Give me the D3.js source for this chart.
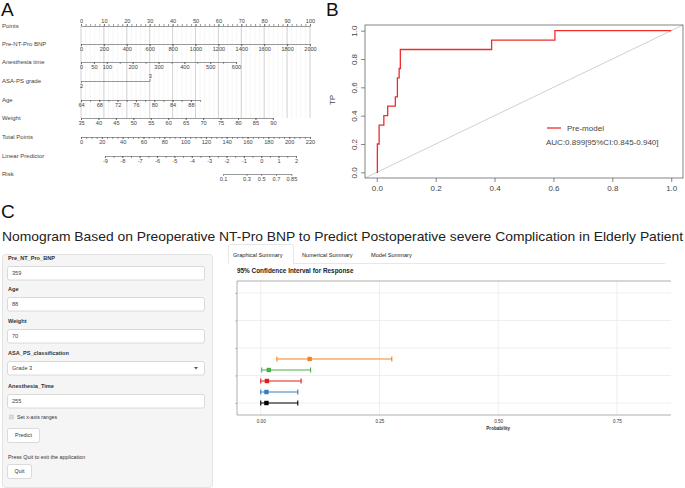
<!DOCTYPE html>
<html>
<head>
<meta charset="utf-8">
<script src="https://cdn.jsdelivr.net/npm/d3@7"></script>
<style>
  body { margin: 0; background: #fff; }
  svg { display: block; font-family: "Liberation Sans", Arial, sans-serif; }
  .nomo .domain, .nomo .tick line { stroke: #555; stroke-width: 0.6; }
  .nomo text { fill: #444; font-size: 5.6px; }
  .roc .domain, .roc .tick line { stroke: #555; stroke-width: 0.7; }
  .roc text { fill: #444; font-size: 8px; }
  .ci .tick line { stroke: #888; stroke-width: 0.5; }
  .ci .domain { display: none; }
  .ci text { fill: #333; font-size: 4.6px; }
</style>
</head>
<body>
<svg id="fig" width="685" height="488"></svg>
<script>
"use strict";

// ---- panel A: nomogram ----
const nomoLabels = ["Points", "Pre-NT-Pro BNP", "Anesthesia time", "ASA-PS grade", "Age",
                    "Weight", "Total Points", "Linear Predictor", "Risk"];
const pointsTicks = [0, 10, 20, 30, 40, 50, 60, 70, 80, 90, 100];
const bnpTicks = [0, 200, 400, 600, 800, 1000, 1200, 1400, 1600, 1800, 2000];
const anesTicks = [0, 50, 100, 150, 200, 250, 300, 350, 400, 450, 500, 550, 600];
const anesLabels = [0, 50, 100, 200, 300, 400, 500, 600];
const asaLevels = [2, 3];
const ageTicks = [64, 66, 68, 70, 72, 74, 76, 78, 80, 82, 84, 86, 88, 90];
const ageLabels = [64, 68, 72, 76, 80, 84, 88];
const weightTicks = [35, 40, 45, 50, 55, 60, 65, 70, 75, 80, 85, 90];
const totalTicks = [0, 20, 40, 60, 80, 100, 120, 140, 160, 180, 200, 220];
const lpTicks = [-9, -8, -7, -6, -5, -4, -3, -2, -1, 0, 1, 2];
const riskTicks = [0.1, 0.3, 0.5, 0.7, 0.85];
// points given at the top of each predictor's range
const bnpMaxPoints = 100, anesMaxPoints = 67.7, asaMaxPoints = 30, ageMaxPoints = 52, weightMaxPoints = 83.8;
// total points that line up with the ends of the linear predictor axis
const lpEnds = [-9, 2], lpEndTotals = [23, 206.5];

// ---- panel B: ROC ----
const rocFpr = [0, 0.002, 0.008, 0.024, 0.037, 0.063, 0.07, 0.076, 0.08, 0.39, 0.605, 1];
const rocTpr = [0, 0.2, 0.333, 0.4, 0.467, 0.533, 0.667, 0.733, 0.867, 0.933, 1, 1];
const rocTicks = [0, 0.2, 0.4, 0.6, 0.8, 1.0];
const rocLegend = ["Pre-model", "AUC:0.899[95%CI:0.845-0.940]"];

// ---- panel C: shiny app ----
const appTitle = "Nomogram Based on Preoperative NT-Pro BNP to Predict Postoperative severe Complication in Elderly Patient";
const fieldLabels = ["Pre_NT_Pro_BNP", "Age", "Weight", "ASA_PS_classification", "Anesthesia_Time"];
const fieldValues = ["359", "88", "70", "Grade 3", "255"];
const tabNames = ["Graphical Summary", "Numerical Summary", "Model Summary"];
const ciFit = [0.012, 0.012, 0.013, 0.017, 0.103];
const ciLower = [0.0, 0.0, 0.0, 0.002, 0.034];
const ciUpper = [0.078, 0.078, 0.085, 0.105, 0.276];
const ciColors = ["#000000", "#377eb8", "#e41a1c", "#4daf4a", "#f58220"];
const ciXTicks = [0, 0.25, 0.5, 0.75];
const ciYTicks = [1, 3.5, 6, 8.5, 11];

const svg = d3.select("#fig");

function panelLabel(x, y, s) {
  svg.append("text").attr("x", x).attr("y", y).attr("font-size", 19).attr("fill", "#111").text(s);
}

/**
 * One nomogram scale: a minor tick pass without labels, then the labelled pass.
 */
function nomoAxis(g, scale, y, above, ticks, labels, fmt) {
  const make = above ? d3.axisTop : d3.axisBottom;
  g.append("g").attr("transform", `translate(0,${y})`)
      .call(make(scale).tickValues(ticks).tickSize(2).tickSizeOuter(0).tickFormat(""));
  const lab = g.append("g").attr("transform", `translate(0,${y})`)
      .call(make(scale).tickValues(labels).tickSize(2).tickSizeOuter(0).tickPadding(1.5)
            .tickFormat(fmt || (d => d)));
  lab.select(".domain").remove();
}

function drawNomogram() {
  const g = svg.append("g").attr("class", "nomo");
  const pts = d3.scaleLinear().domain([0, 100]).range([81, 310]);
  const rowY = [26, 44, 62, 81, 100, 118, 137, 156, 174];

  // grid
  const grid = g.append("g");
  grid.selectAll(".minor").data(d3.range(0, 101, 2)).join("line")
      .attr("x1", d => pts(d)).attr("x2", d => pts(d)).attr("y1", rowY[0]).attr("y2", rowY[5])
      .attr("stroke", "#ededed").attr("stroke-width", 0.5);
  grid.selectAll(".major").data(pointsTicks).join("line")
      .attr("x1", d => pts(d)).attr("x2", d => pts(d)).attr("y1", rowY[0]).attr("y2", rowY[5])
      .attr("stroke", "#cfcfcf").attr("stroke-width", 0.9);

  g.selectAll(".lab").data(nomoLabels).join("text")
      .attr("x", 2).attr("y", (d, i) => rowY[i]).attr("dy", "0.35em").style("font-size", "6px")
      .text(d => d);

  nomoAxis(g, pts, rowY[0], true, d3.range(0, 101, 2), pointsTicks);

  const bnp = d3.scaleLinear().domain([0, 2000]).range([pts(0), pts(bnpMaxPoints)]);
  nomoAxis(g, bnp, rowY[1], false, bnpTicks, bnpTicks);

  const anes = d3.scaleLinear().domain([0, 600]).range([pts(0), pts(anesMaxPoints)]);
  nomoAxis(g, anes, rowY[2], false, anesTicks, anesLabels);

  const asa = d3.scaleLinear().domain(asaLevels).range([pts(0), pts(asaMaxPoints)]);
  g.append("g").attr("transform", `translate(0,${rowY[3]})`)
      .call(d3.axisTop(asa).tickValues([asaLevels[1]]).tickSize(2).tickSizeOuter(0).tickPadding(1.5)
            .tickFormat(d => d));
  g.append("g").attr("transform", `translate(0,${rowY[3]})`)
      .call(d3.axisBottom(asa).tickValues([asaLevels[0]]).tickSize(2).tickSizeOuter(0).tickPadding(1.5)
            .tickFormat(d => d))
      .select(".domain").remove();

  const age = d3.scaleLinear().domain([64, 90]).range([pts(0), pts(ageMaxPoints)]);
  nomoAxis(g, age, rowY[4], false, ageTicks, ageLabels);

  const weight = d3.scaleLinear().domain([35, 90]).range([pts(0), pts(weightMaxPoints)]);
  nomoAxis(g, weight, rowY[5], false, weightTicks, weightTicks);

  const total = d3.scaleLinear().domain([0, 220]).range([81, 310]);
  nomoAxis(g, total, rowY[6], false, d3.range(0, 221, 5), totalTicks);

  const lp = d3.scaleLinear().domain(lpEnds).range(lpEndTotals.map(total));
  nomoAxis(g, lp, rowY[7], false, d3.range(-9, 2.01, 0.5), lpTicks);

  const logit = p => Math.log(p / (1 - p));
  const riskLo = logit(riskTicks[0]), riskHi = logit(riskTicks[riskTicks.length - 1]);
  const risk = d3.scaleLinear().domain([riskLo, riskHi]).range([lp(riskLo), lp(riskHi)]);
  g.append("g").attr("transform", `translate(0,${rowY[8]})`)
      .call(d3.axisBottom(risk).tickValues(riskTicks.map(logit)).tickSize(2).tickSizeOuter(0)
            .tickPadding(1.5).tickFormat((d, i) => riskTicks[i]));
}

function drawRoc() {
  const g = svg.append("g").attr("class", "roc");
  const x = d3.scaleLinear().domain([-0.04, 1.04]).range([365, 683]);
  const y = d3.scaleLinear().domain([-0.04, 1.04]).range([178, 25]);

  g.append("line").attr("x1", x(-0.04)).attr("y1", y(-0.04)).attr("x2", x(1.04)).attr("y2", y(1.04))
      .attr("stroke", "#c4c4c4").attr("stroke-width", 0.8);

  const line = d3.line().x(d => x(d[0])).y(d => y(d[1])).curve(d3.curveStepAfter);
  g.append("path").datum(d3.zip(rocFpr, rocTpr)).attr("d", line)
      .attr("fill", "none").attr("stroke", "#ee2c2c").attr("stroke-width", 1.3);

  g.append("rect").attr("x", 365).attr("y", 25).attr("width", 318).attr("height", 153)
      .attr("fill", "none").attr("stroke", "#666").attr("stroke-width", 0.8);

  g.append("g").attr("transform", "translate(0,178)")
      .call(d3.axisBottom(x).tickValues(rocTicks).tickSize(4).tickPadding(3).tickFormat(d3.format(".1f")))
      .select(".domain").remove();
  const ya = g.append("g").attr("transform", "translate(365,0)")
      .call(d3.axisLeft(y).tickValues(rocTicks).tickSize(4).tickFormat(d3.format(".1f")));
  ya.select(".domain").remove();
  ya.selectAll("text").attr("x", 0).attr("y", -8).attr("dy", 0)
      .attr("transform", "rotate(-90)").attr("text-anchor", "middle");

  g.append("text").attr("transform", "translate(335,100) rotate(-90)").attr("text-anchor", "middle")
      .text("TP");

  g.append("line").attr("x1", 547).attr("x2", 561).attr("y1", 128).attr("y2", 128)
      .attr("stroke", "#ee2c2c").attr("stroke-width", 1.3);
  g.append("text").attr("x", 567).attr("y", 128).attr("dy", "0.35em").text(rocLegend[0]);
  g.append("text").attr("x", 546).attr("y", 142).attr("dy", "0.35em").text(rocLegend[1]);
}

function drawApp() {
  svg.append("text").attr("x", 2).attr("y", 241).attr("font-size", 13.4).attr("fill", "#222")
      .attr("textLength", 681).attr("lengthAdjust", "spacingAndGlyphs").text(appTitle);

  // sidebar well
  const side = svg.append("g");
  side.append("rect").attr("x", 2.5).attr("y", 254.5).attr("width", 210).attr("height", 233).attr("rx", 3)
      .attr("fill", "#f5f5f5").attr("stroke", "#e3e3e3");
  const labelY = [258, 289, 321, 353, 386];
  fieldLabels.forEach((lab, i) => {
    side.append("text").attr("x", 8).attr("y", labelY[i]).attr("dy", "0.35em")
        .attr("font-size", 5.6).attr("font-weight", "bold").attr("fill", "#333").text(lab);
    side.append("rect").attr("x", 7.5).attr("y", labelY[i] + 8.5).attr("width", 197).attr("height", 13.5)
        .attr("rx", 2).attr("fill", "#fff").attr("stroke", "#ccc").attr("stroke-width", 0.7);
    side.append("text").attr("x", 12).attr("y", labelY[i] + 15.3).attr("dy", "0.35em")
        .attr("font-size", 5.6).attr("fill", "#444").text(fieldValues[i]);
  });
  side.append("path").attr("d", "M194,367 l4,0 l-2,2.5 z").attr("fill", "#555");

  side.append("rect").attr("x", 9.5).attr("y", 415).attr("width", 4).attr("height", 4)
      .attr("fill", "#ddd").attr("stroke", "#bbb").attr("stroke-width", 0.4);
  side.append("text").attr("x", 17).attr("y", 417).attr("dy", "0.35em").attr("font-size", 5.2)
      .attr("fill", "#333").text("Set x-axis ranges");

  const buttons = [["Predict", 428, 32], ["Quit", 464, 24]];
  buttons.forEach(([t, y, w]) => {
    side.append("rect").attr("x", 7.5).attr("y", y + 0.5).attr("width", w).attr("height", 14).attr("rx", 2)
        .attr("fill", "#fff").attr("stroke", "#ccc").attr("stroke-width", 0.7);
    side.append("text").attr("x", 7.5 + w / 2).attr("y", y + 7.5).attr("dy", "0.35em").attr("text-anchor", "middle")
        .attr("font-size", 5.4).attr("fill", "#333").text(t);
  });
  side.append("text").attr("x", 8).attr("y", 457).attr("dy", "0.35em").attr("font-size", 5.4)
      .attr("fill", "#333").text("Press Quit to exit the application");

  // tabs
  const tabs = svg.append("g");
  tabs.append("path").attr("d", "M228.5,263.5 V246.5 Q228.5,244.5 230.5,244.5 H291.5 Q293.5,244.5 293.5,246.5 V263.5 H665")
      .attr("fill", "#fff").attr("stroke", "#ddd").attr("stroke-width", 0.7);
  const tabX = [233, 302, 371];
  tabNames.forEach((t, i) => {
    tabs.append("text").attr("x", tabX[i]).attr("y", 255).attr("dy", "0.35em").attr("font-size", 5.6)
        .attr("fill", "#222").text(t);
  });
  tabs.append("text").attr("x", 237).attr("y", 271).attr("dy", "0.35em").attr("font-size", 6.4)
      .attr("font-weight", "bold").attr("fill", "#222").text("95% Confidence Interval for Response");

  // CI plot
  const g = svg.append("g").attr("class", "ci");
  const x = d3.scaleLinear().domain([-0.05, 0.864]).range([237, 671]);
  const y = d3.scaleLinear().domain([-0.09, 12.09]).range([415, 281]);

  g.selectAll(".gx").data(ciXTicks).join("line")
      .attr("x1", d => x(d)).attr("x2", d => x(d)).attr("y1", 281).attr("y2", 415)
      .attr("stroke", "#ebebeb").attr("stroke-width", 0.8);
  g.selectAll(".gy").data(ciYTicks).join("line")
      .attr("x1", 237).attr("x2", 671).attr("y1", d => y(d)).attr("y2", d => y(d))
      .attr("stroke", "#ebebeb").attr("stroke-width", 0.8);

  g.append("path").attr("d", "M237,281 H671 M237,281 V415 H671")
      .attr("fill", "none").attr("stroke", "#999").attr("stroke-width", 0.8);

  g.append("g").attr("transform", "translate(0,415)")
      .call(d3.axisBottom(x).tickValues(ciXTicks).tickSize(0).tickPadding(5).tickFormat(d3.format(".2f")));
  g.append("g").attr("transform", "translate(237,0)")
      .call(d3.axisLeft(y).tickValues(ciYTicks).tickSize(2).tickFormat(""));
  g.append("text").attr("x", x(0.5)).attr("y", 428).attr("dy", "0.35em").attr("text-anchor", "middle")
      .attr("font-size", 6).attr("font-weight", "bold").attr("fill", "#222").text("Probability");

  const rows = d3.range(ciFit.length);
  const bars = g.selectAll(".bar").data(rows).join("g")
      .attr("transform", i => `translate(0,${y(i + 1)})`);
  bars.append("path")
      .attr("d", i => `M${x(ciLower[i])},0 H${x(ciUpper[i])} M${x(ciLower[i])},-2.5 V2.5 M${x(ciUpper[i])},-2.5 V2.5`)
      .attr("stroke", i => ciColors[i]).attr("stroke-width", 1.1).attr("fill", "none");
  bars.append("rect").attr("x", i => x(ciFit[i]) - 2.2).attr("y", -2.2).attr("width", 4.4).attr("height", 4.4)
      .attr("fill", i => ciColors[i]);
}

drawNomogram();
drawRoc();
drawApp();
panelLabel(1, 16, "A");
panelLabel(326, 16, "B");
panelLabel(1, 218, "C");
</script>
</body>
</html>
